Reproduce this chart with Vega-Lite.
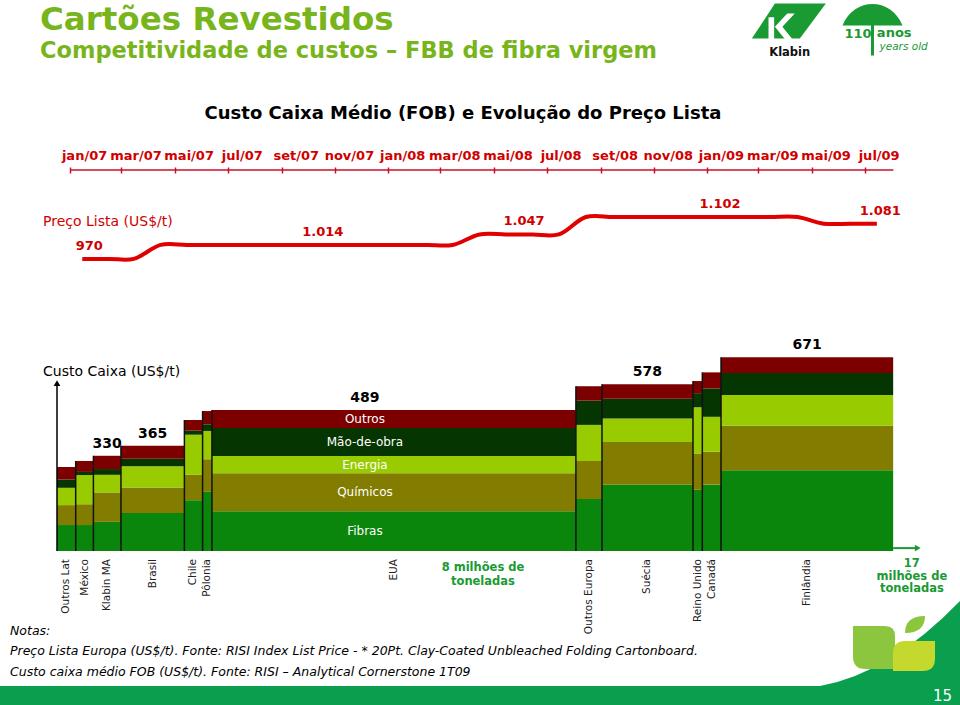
{
  "$schema": "https://vega.github.io/schema/vega-lite/v6.json",
  "background": "white",
  "padding": {"left": 0, "right": 0, "top": 3, "bottom": 0},
  "config": {"view": {"stroke": null}, "font": "DejaVu Sans"},
  "title": {
    "text": "Cartões Revestidos",
    "subtitle": "Competitividade de custos – FBB de fibra virgem",
    "anchor": "start",
    "frame": "group",
    "dx": 40,
    "fontSize": 32.5,
    "fontWeight": "bold",
    "color": "#78b51c",
    "subtitleFontSize": 22.5,
    "subtitleFontWeight": "bold",
    "subtitleColor": "#78b51c",
    "subtitlePadding": 3,
    "offset": -58.5
  },
  "datasets": {
    "precos": [
      {"mes": "2007-01-15", "preco": 970},
      {"mes": "2007-02-15", "preco": 970},
      {"mes": "2007-03-15", "preco": 970},
      {"mes": "2007-04-15", "preco": 1014},
      {"mes": "2007-05-15", "preco": 1014},
      {"mes": "2007-06-15", "preco": 1014},
      {"mes": "2007-07-15", "preco": 1014},
      {"mes": "2007-08-15", "preco": 1014},
      {"mes": "2007-09-15", "preco": 1014},
      {"mes": "2007-10-15", "preco": 1014},
      {"mes": "2007-11-15", "preco": 1014},
      {"mes": "2007-12-15", "preco": 1014},
      {"mes": "2008-01-15", "preco": 1014},
      {"mes": "2008-02-15", "preco": 1014},
      {"mes": "2008-03-15", "preco": 1014},
      {"mes": "2008-04-15", "preco": 1047},
      {"mes": "2008-05-15", "preco": 1047},
      {"mes": "2008-06-15", "preco": 1047},
      {"mes": "2008-07-15", "preco": 1047},
      {"mes": "2008-08-15", "preco": 1102},
      {"mes": "2008-09-15", "preco": 1102},
      {"mes": "2008-10-15", "preco": 1102},
      {"mes": "2008-11-15", "preco": 1102},
      {"mes": "2008-12-15", "preco": 1102},
      {"mes": "2009-01-15", "preco": 1102},
      {"mes": "2009-02-15", "preco": 1102},
      {"mes": "2009-03-15", "preco": 1102},
      {"mes": "2009-04-15", "preco": 1102},
      {"mes": "2009-05-15", "preco": 1081},
      {"mes": "2009-06-15", "preco": 1081},
      {"mes": "2009-07-15", "preco": 1081}
    ],
    "rotulos_preco": [
      {"mes": "2007-01-23", "preco": 970},
      {"mes": "2007-10-18", "preco": 1014},
      {"mes": "2008-06-05", "preco": 1047},
      {"mes": "2009-01-16", "preco": 1102},
      {"mes": "2009-07-19", "preco": 1081}
    ],
    "eixo_tempo": [
      {"mes": "2007-01-01", "fim": "2009-08-03"}
    ],
    "custos": [
      {"pais": "Outros Lat", "ini": 0, "fim": 0.38, "Fibras": 90, "Químicos": 69, "Energia": 60, "Mão-de-obra": 29, "Outros": 43},
      {"pais": "México", "ini": 0.38, "fim": 0.74, "Fibras": 90, "Químicos": 72, "Energia": 101, "Mão-de-obra": 11, "Outros": 38},
      {"pais": "Klabin MA", "ini": 0.74, "fim": 1.3, "Fibras": 101, "Químicos": 102, "Energia": 61, "Mão-de-obra": 20, "Outros": 46},
      {"pais": "Brasil", "ini": 1.3, "fim": 2.59, "Fibras": 132, "Químicos": 88, "Energia": 74, "Mão-de-obra": 26, "Outros": 45},
      {"pais": "Chile", "ini": 2.59, "fim": 2.96, "Fibras": 176, "Químicos": 88, "Energia": 139, "Mão-de-obra": 14, "Outros": 37},
      {"pais": "Pôlonia", "ini": 2.96, "fim": 3.15, "Fibras": 205, "Químicos": 113, "Energia": 98, "Mão-de-obra": 23, "Outros": 46},
      {"pais": "EUA", "ini": 3.15, "fim": 10.55, "Fibras": 138, "Químicos": 131, "Energia": 60, "Mão-de-obra": 97, "Outros": 63},
      {"pais": "Outros Europa", "ini": 10.55, "fim": 11.08, "Fibras": 180, "Químicos": 132, "Energia": 125, "Mão-de-obra": 84, "Outros": 50},
      {"pais": "Suécia", "ini": 11.08, "fim": 12.93, "Fibras": 230, "Químicos": 148, "Energia": 81, "Mão-de-obra": 69, "Outros": 50},
      {"pais": "Reino Unido", "ini": 12.93, "fim": 13.12, "Fibras": 212, "Químicos": 126, "Energia": 160, "Mão-de-obra": 49, "Outros": 42},
      {"pais": "Canadá", "ini": 13.12, "fim": 13.5, "Fibras": 230, "Químicos": 114, "Energia": 121, "Mão-de-obra": 98, "Outros": 56},
      {"pais": "Finlândia", "ini": 13.5, "fim": 17, "Fibras": 280, "Químicos": 154, "Energia": 107, "Mão-de-obra": 76, "Outros": 54}
    ]
  },
  "spacing": 0,
  "bounds": "flush",
  "center": true,
  "vconcat": [
    {
      "width": 846,
      "height": 100,
      "title": {
        "text": "Custo Caixa Médio (FOB) e Evolução do Preço Lista",
        "fontSize": 18,
        "fontWeight": "bold",
        "color": "#000000",
        "anchor": "middle",
        "frame": "group",
        "dx": -17,
        "offset": -119
      },
      "encoding": {
        "x": {
          "field": "mes",
          "type": "temporal",
          "scale": {"type": "utc", "domain": ["2006-12-17", "2009-08-14"]},
          "axis": {
            "orient": "top",
            "title": null,
            "domain": false,
            "grid": false,
            "tickCount": {"interval": "month", "step": 2},
            "labelExpr": "['jan','fev','mar','abr','mai','jun','jul','ago','set','out','nov','dez'][utcmonth(datum.value)] + '/' + utcFormat(datum.value, '%y')",
            "labelOffset": 14,
            "labelPadding": 5,
            "labelFontSize": 13,
            "labelFontWeight": "bold",
            "labelColor": "#d00000",
            "labelOverlap": false,
            "labelFlush": false,
            "labelBound": false,
            "tickColor": "#c8102e",
            "tickSize": 6,
            "tickWidth": 1.5,
            "offset": -3
          }
        }
      },
      "layer": [
        {
          "data": {"name": "eixo_tempo"},
          "mark": {"type": "rule", "color": "#c8102e", "strokeWidth": 1.5},
          "encoding": {
            "x2": {"field": "fim"},
            "y": {"datum": 1250, "type": "quantitative", "axis": null}
          }
        },
        {
          "data": {"name": "precos"},
          "mark": {"type": "line", "interpolate": "catmull-rom", "color": "#e00000", "strokeWidth": 4},
          "encoding": {
            "y": {
              "field": "preco",
              "type": "quantitative",
              "scale": {"domain": [935, 1250], "zero": false, "nice": false},
              "axis": null
            }
          }
        },
        {
          "data": {"name": "rotulos_preco"},
          "transform": [
            {"calculate": "replace(format(datum.preco, ','), ',', '.')", "as": "texto"}
          ],
          "mark": {"type": "text", "fontSize": 13, "fontWeight": "bold", "color": "#d00000", "dy": -13},
          "encoding": {
            "y": {"field": "preco", "type": "quantitative", "axis": null},
            "text": {"field": "texto"}
          }
        },
        {
          "data": {"name": "eixo_tempo"},
          "mark": {"type": "text", "align": "left", "fontSize": 14, "color": "#d00000", "dx": -27},
          "encoding": {
            "y": {"datum": 1085, "type": "quantitative", "axis": null},
            "text": {"value": "Preço Lista (US$/t)"}
          }
        },
        {
          "data": {"values": [{"mes": "2009-04-05"}]},
          "mark": {"type": "point", "shape": "M -0.373,-0.467 L 0.987,-0.467 L 0.293,0.467 L -0.987,0.467 Z", "filled": true, "color": "#1a9a32", "size": 5625, "opacity": 1, "strokeWidth": 0},
          "encoding": {
            "y": {"datum": 1719, "type": "quantitative", "axis": null}
          }
        },
        {
          "data": {"values": [{"mes": "2009-04-01"}]},
          "mark": {"type": "point", "shape": "M -0.45,-0.1 L -0.3,-0.1 L -0.3,0.5 L -0.45,0.5 Z M -0.28,0.15 L 0.05,-0.2 L 0.25,-0.2 L -0.08,0.15 L 0.2,0.5 L 0.0,0.5 Z", "filled": true, "color": "#ffffff", "size": 5625, "opacity": 1, "strokeWidth": 0},
          "encoding": {
            "y": {"datum": 1719, "type": "quantitative", "axis": null}
          }
        },
        {
          "data": {"values": [{"mes": "2009-04-06"}]},
          "mark": {"type": "text", "fontSize": 11.5, "fontWeight": "bold", "color": "#111111", "baseline": "middle"},
          "encoding": {
            "y": {"datum": 1620, "type": "quantitative", "axis": null},
            "text": {"value": "Klabin"}
          }
        },
        {
          "data": {"values": [{"mes": "2009-07-10"}]},
          "mark": {"type": "point", "shape": "M -1,0 C -0.8,-0.5 -0.4,-0.72 0,-0.72 C 0.4,-0.72 0.8,-0.5 1,0 Z M -0.05,0 L 0.05,0 L 0.05,1 L -0.05,1 Z", "filled": true, "color": "#1a9a32", "size": 3600, "opacity": 1, "strokeWidth": 0},
          "encoding": {
            "y": {"datum": 1705, "type": "quantitative", "axis": null}
          }
        },
        {
          "data": {"values": [{"mes": "2009-07-09"}]},
          "mark": {"type": "text", "fontSize": 13, "fontWeight": "bold", "color": "#1a9a32", "align": "right", "baseline": "middle"},
          "encoding": {
            "y": {"datum": 1678, "type": "quantitative", "axis": null},
            "text": {"value": "110"}
          }
        },
        {
          "data": {"values": [{"mes": "2009-07-15"}]},
          "mark": {"type": "text", "fontSize": 13, "fontWeight": "bold", "color": "#1a9a32", "align": "left", "baseline": "middle"},
          "encoding": {
            "y": {"datum": 1680, "type": "quantitative", "axis": null},
            "text": {"value": "anos"}
          }
        },
        {
          "data": {"values": [{"mes": "2009-07-18"}]},
          "mark": {"type": "text", "fontSize": 10.5, "fontStyle": "italic", "color": "#1a9a32", "align": "left", "baseline": "middle"},
          "encoding": {
            "y": {"datum": 1638, "type": "quantitative", "axis": null},
            "text": {"value": "years old"}
          }
        }
      ]
    },
    {
      "width": 846,
      "height": 79,
      "data": {"values": [{"vazio": 0}]},
      "mark": {"type": "point", "opacity": 0},
      "encoding": {}
    },
    {
      "width": 846,
      "height": 202,
      "layer": [
        {
          "data": {"name": "custos"},
          "transform": [
            {"fold": ["Fibras", "Químicos", "Energia", "Mão-de-obra", "Outros"], "as": ["componente", "valor"]},
            {"calculate": "indexof(['Fibras','Químicos','Energia','Mão-de-obra','Outros'], datum.componente)", "as": "ordem"},
            {"stack": "valor", "groupby": ["pais"], "sort": [{"field": "ordem", "order": "ascending"}], "as": ["base", "topo"]},
            {"calculate": "(datum.ini + datum.fim) / 2", "as": "meio"},
            {"calculate": "(datum.base + datum.topo) / 2", "as": "centro"}
          ],
          "layer": [
            {
              "mark": {"type": "rect"},
              "encoding": {
                "x": {"field": "ini", "type": "quantitative", "scale": {"domain": [0, 17.2], "nice": false, "zero": false}, "axis": null},
                "x2": {"field": "fim"},
                "y": {"field": "base", "type": "quantitative", "scale": {"domain": [0, 700], "nice": false}, "axis": null},
                "y2": {"field": "topo"},
                "color": {
                  "field": "componente",
                  "type": "nominal",
                  "scale": {
                    "domain": ["Fibras", "Químicos", "Energia", "Mão-de-obra", "Outros"],
                    "range": ["#0a860c", "#827c00", "#99cc00", "#053500", "#7d0000"]
                  },
                  "legend": null
                }
              }
            },
            {
              "transform": [{"filter": "datum.componente === 'Outros' && datum.ini > 0"}],
              "mark": {"type": "rule", "color": "#111111", "strokeWidth": 1.5},
              "encoding": {
                "x": {"field": "ini", "type": "quantitative", "axis": null},
                "y": {"field": "topo", "type": "quantitative", "axis": null},
                "y2": {"datum": 0}
              }
            },
            {
              "transform": [{"filter": "datum.componente === 'Outros' && indexof(['Klabin MA','Brasil','Suécia','Finlândia'], datum.pais) >= 0"}],
              "mark": {"type": "text", "fontSize": 14, "fontWeight": "bold", "color": "#000000", "dy": -12, "baseline": "middle"},
              "encoding": {
                "x": {"field": "meio", "type": "quantitative", "axis": null},
                "y": {"field": "topo", "type": "quantitative", "axis": null},
                "text": {"field": "topo", "type": "quantitative", "format": ".0f"}
              }
            },
            {
              "transform": [{"filter": "datum.componente === 'Outros' && datum.pais === 'EUA'"}],
              "mark": {"type": "text", "fontSize": 14, "fontWeight": "bold", "color": "#000000", "dy": -12, "dx": -29, "baseline": "middle"},
              "encoding": {
                "x": {"field": "meio", "type": "quantitative", "axis": null},
                "y": {"field": "topo", "type": "quantitative", "axis": null},
                "text": {"field": "topo", "type": "quantitative", "format": ".0f"}
              }
            },
            {
              "transform": [{"filter": "datum.pais === 'EUA'"}],
              "mark": {"type": "text", "fontSize": 12, "color": "#ffffff", "dx": -29, "baseline": "middle"},
              "encoding": {
                "x": {"field": "meio", "type": "quantitative", "axis": null},
                "y": {"field": "centro", "type": "quantitative", "axis": null},
                "text": {"field": "componente"}
              }
            },
            {
              "transform": [{"filter": "datum.componente === 'Fibras'"}],
              "mark": {"type": "text", "fontSize": 10.5, "color": "#222222", "angle": 270, "align": "right", "baseline": "middle", "dx": -8},
              "encoding": {
                "x": {"field": "meio", "type": "quantitative", "axis": null},
                "y": {"field": "base", "type": "quantitative", "axis": null},
                "text": {"field": "pais"}
              }
            }
          ]
        },
        {
          "data": {"values": [{"custo": 0}]},
          "mark": {"type": "rule", "color": "#000000", "strokeWidth": 1.5},
          "encoding": {
            "x": {"datum": 0, "type": "quantitative", "axis": null},
            "y": {"datum": 0, "type": "quantitative", "axis": null},
            "y2": {"datum": 578}
          }
        },
        {
          "data": {"values": [{"custo": 0}]},
          "mark": {"type": "point", "shape": "triangle-up", "filled": true, "color": "#000000", "size": 45, "opacity": 1},
          "encoding": {
            "x": {"datum": 0, "type": "quantitative", "axis": null},
            "y": {"datum": 582, "type": "quantitative", "axis": null}
          }
        },
        {
          "data": {"values": [{"custo": 0}]},
          "mark": {"type": "rule", "color": "#1a9a32", "strokeWidth": 2},
          "encoding": {
            "x": {"datum": 17.0, "type": "quantitative", "axis": null},
            "x2": {"datum": 17.45},
            "y": {"datum": 10, "type": "quantitative", "axis": null}
          }
        },
        {
          "data": {"values": [{"custo": 0}]},
          "mark": {"type": "point", "shape": "triangle-right", "filled": true, "color": "#1a9a32", "size": 45, "opacity": 1},
          "encoding": {
            "x": {"datum": 17.5, "type": "quantitative", "axis": null},
            "y": {"datum": 10, "type": "quantitative", "axis": null}
          }
        },
        {
          "data": {"values": [{"custo": 0}]},
          "mark": {"type": "text", "align": "left", "fontSize": 14, "color": "#000000", "dx": -14, "baseline": "middle"},
          "encoding": {
            "x": {"datum": 0, "type": "quantitative", "axis": null},
            "y": {"datum": 622, "type": "quantitative", "axis": null},
            "text": {"value": "Custo Caixa (US$/t)"}
          }
        },
        {
          "data": {"values": [{"custo": 0}]},
          "mark": {"type": "text", "align": "center", "baseline": "top", "fontSize": 11.5, "fontWeight": "bold", "color": "#1a9a32", "dy": 11, "lineHeight": 14},
          "encoding": {
            "x": {"datum": 8.66, "type": "quantitative", "axis": null},
            "y": {"datum": 0, "type": "quantitative", "axis": null},
            "text": {"value": ["8 milhões de", "toneladas"]}
          }
        },
        {
          "data": {"values": [{"custo": 0}]},
          "mark": {"type": "text", "align": "center", "baseline": "top", "fontSize": 11.5, "fontWeight": "bold", "color": "#1a9a32", "dy": 7, "lineHeight": 12.5},
          "encoding": {
            "x": {"datum": 17.38, "type": "quantitative", "axis": null},
            "y": {"datum": 0, "type": "quantitative", "axis": null},
            "text": {"value": ["17", "milhões de", "toneladas"]}
          }
        }
      ]
    },
    {
      "width": 960,
      "height": 135,
      "data": {"values": [{"vazio": 0}]},
      "encoding": {
        "x": {"datum": 1, "type": "quantitative", "scale": {"domain": [0, 1]}, "axis": null}
      },
      "layer": [
        {
          "mark": {"type": "point", "shape": "M 0,-0.35 L 0,1.45 L -2.8,1.45 L -2.8,1.35 Q -1.4,1.1 0,-0.35 Z", "filled": true, "color": "#0a9f4f", "size": 10000, "opacity": 1, "strokeWidth": 0}
        },
        {
          "mark": {"type": "point", "shape": "M -2.14,0.15 L -1.5,0.15 Q -1.3,0.15 -1.3,0.35 L -1.3,1.01 L -1.9,1.01 Q -2.14,1.01 -2.14,0.75 Z M -1.1,0.29 Q -1.1,-0.05 -0.7,-0.05 Q -0.7,0.29 -1.1,0.29 Z", "filled": true, "color": "#8cc63f", "size": 10000, "opacity": 1, "strokeWidth": 0}
        },
        {
          "mark": {"type": "point", "shape": "M -1.34,0.7 Q -1.34,0.45 -1.1,0.45 L -0.5,0.45 L -0.5,0.8 Q -0.5,1.05 -0.75,1.05 L -1.34,1.05 Z", "filled": true, "color": "#c5d82e", "size": 10000, "opacity": 1, "strokeWidth": 0}
        }
      ]
    },
    {
      "width": 960,
      "height": 20,
      "view": {"fill": "#0a9f4f", "stroke": null},
      "title": {
        "text": [
          "Notas:",
          "Preço Lista Europa (US$/t). Fonte: RISI Index List Price  -  * 20Pt. Clay-Coated Unbleached Folding Cartonboard.",
          "Custo caixa médio FOB (US$/t). Fonte: RISI – Analytical Cornerstone 1T09"
        ],
        "anchor": "start",
        "frame": "group",
        "dx": 10,
        "offset": 8,
        "fontSize": 12.5,
        "fontStyle": "italic",
        "fontWeight": "normal",
        "lineHeight": 20.5,
        "color": "#000000"
      },
      "data": {"values": [{"pagina": "15"}]},
      "mark": {"type": "text", "color": "#ffffff", "fontSize": 15, "align": "right", "dx": -8},
      "encoding": {
        "x": {"datum": 1, "type": "quantitative", "scale": {"domain": [0, 1]}, "axis": null},
        "text": {"field": "pagina"}
      }
    }
  ]
}
